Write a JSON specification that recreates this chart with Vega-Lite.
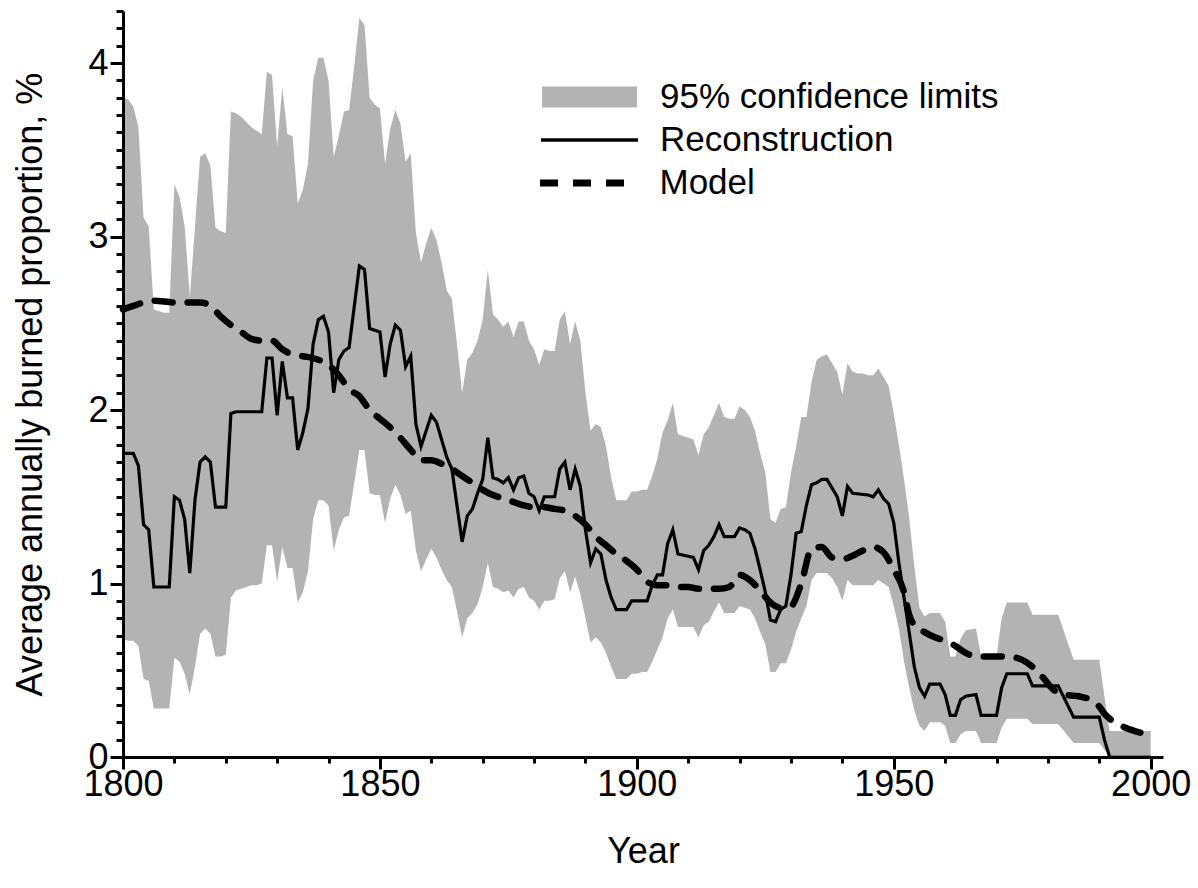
{
  "$schema": "https://vega.github.io/schema/vega-lite/v6.json",
  "width": 1040,
  "height": 746,
  "autosize": {"type": "none"},
  "padding": {"left": 123, "top": 11, "right": 35, "bottom": 131},
  "background": "white",
  "config": {"view": {"stroke": null}, "font": "Liberation Sans"},
  "datasets": {
    "band": [
      {"year":1800,"lo":0.68,"hi":3.80},{"year":1801,"lo":0.67,"hi":3.79},{"year":1802,"lo":0.67,"hi":3.75},{"year":1803,"lo":0.64,"hi":3.63},
      {"year":1804,"lo":0.45,"hi":3.11},{"year":1805,"lo":0.44,"hi":3.06},{"year":1806,"lo":0.28,"hi":2.58},{"year":1807,"lo":0.28,"hi":2.57},
      {"year":1808,"lo":0.28,"hi":2.56},{"year":1809,"lo":0.28,"hi":2.56},{"year":1810,"lo":0.57,"hi":3.30},{"year":1811,"lo":0.55,"hi":3.23},
      {"year":1812,"lo":0.48,"hi":3.06},{"year":1813,"lo":0.36,"hi":2.65},{"year":1814,"lo":0.52,"hi":3.05},{"year":1815,"lo":0.71,"hi":3.46},
      {"year":1816,"lo":0.74,"hi":3.48},{"year":1817,"lo":0.71,"hi":3.41},{"year":1818,"lo":0.58,"hi":3.05},{"year":1819,"lo":0.58,"hi":3.03},
      {"year":1820,"lo":0.59,"hi":3.02},{"year":1821,"lo":0.92,"hi":3.72},{"year":1822,"lo":0.96,"hi":3.71},{"year":1823,"lo":0.97,"hi":3.69},
      {"year":1824,"lo":0.98,"hi":3.66},{"year":1825,"lo":0.99,"hi":3.63},{"year":1826,"lo":0.99,"hi":3.61},{"year":1827,"lo":1.00,"hi":3.59},
      {"year":1828,"lo":1.22,"hi":3.95},{"year":1829,"lo":1.22,"hi":3.93},{"year":1830,"lo":1.01,"hi":3.52},{"year":1831,"lo":1.21,"hi":3.86},
      {"year":1832,"lo":1.09,"hi":3.59},{"year":1833,"lo":1.09,"hi":3.58},{"year":1834,"lo":0.89,"hi":3.19},{"year":1835,"lo":0.95,"hi":3.27},
      {"year":1836,"lo":1.07,"hi":3.42},{"year":1837,"lo":1.37,"hi":3.90},{"year":1838,"lo":1.48,"hi":4.03},{"year":1839,"lo":1.48,"hi":4.03},
      {"year":1840,"lo":1.45,"hi":3.90},{"year":1841,"lo":1.19,"hi":3.46},{"year":1842,"lo":1.31,"hi":3.58},{"year":1843,"lo":1.38,"hi":3.72},
      {"year":1844,"lo":1.39,"hi":3.73},{"year":1845,"lo":1.58,"hi":3.98},{"year":1846,"lo":1.77,"hi":4.26},{"year":1847,"lo":1.77,"hi":4.22},
      {"year":1848,"lo":1.52,"hi":3.80},{"year":1849,"lo":1.51,"hi":3.76},{"year":1850,"lo":1.51,"hi":3.74},{"year":1851,"lo":1.35,"hi":3.42},
      {"year":1852,"lo":1.49,"hi":3.62},{"year":1853,"lo":1.57,"hi":3.73},{"year":1854,"lo":1.51,"hi":3.65},{"year":1855,"lo":1.40,"hi":3.43},
      {"year":1856,"lo":1.42,"hi":3.48},{"year":1857,"lo":1.19,"hi":3.02},{"year":1858,"lo":1.07,"hi":2.85},{"year":1859,"lo":1.14,"hi":2.96},
      {"year":1860,"lo":1.20,"hi":3.05},{"year":1861,"lo":1.15,"hi":2.98},{"year":1862,"lo":1.08,"hi":2.85},{"year":1863,"lo":1.02,"hi":2.69},
      {"year":1864,"lo":0.98,"hi":2.64},{"year":1865,"lo":0.84,"hi":2.38},{"year":1866,"lo":0.69,"hi":2.10},{"year":1867,"lo":0.80,"hi":2.29},
      {"year":1868,"lo":0.83,"hi":2.33},{"year":1869,"lo":0.88,"hi":2.40},{"year":1870,"lo":0.98,"hi":2.52},{"year":1871,"lo":1.12,"hi":2.81},
      {"year":1872,"lo":0.98,"hi":2.55},{"year":1873,"lo":0.97,"hi":2.52},{"year":1874,"lo":0.95,"hi":2.48},{"year":1875,"lo":0.96,"hi":2.51},
      {"year":1876,"lo":0.92,"hi":2.42},{"year":1877,"lo":0.97,"hi":2.51},{"year":1878,"lo":0.98,"hi":2.51},{"year":1879,"lo":0.92,"hi":2.40},
      {"year":1880,"lo":0.90,"hi":2.35},{"year":1881,"lo":0.85,"hi":2.26},{"year":1882,"lo":0.90,"hi":2.35},{"year":1883,"lo":0.90,"hi":2.34},
      {"year":1884,"lo":0.91,"hi":2.34},{"year":1885,"lo":1.03,"hi":2.52},{"year":1886,"lo":1.07,"hi":2.57},{"year":1887,"lo":0.95,"hi":2.38},
      {"year":1888,"lo":1.04,"hi":2.51},{"year":1889,"lo":0.94,"hi":2.40},{"year":1890,"lo":0.80,"hi":2.10},{"year":1891,"lo":0.66,"hi":1.88},
      {"year":1892,"lo":0.69,"hi":1.92},{"year":1893,"lo":0.66,"hi":1.90},{"year":1894,"lo":0.60,"hi":1.79},{"year":1895,"lo":0.52,"hi":1.61},
      {"year":1896,"lo":0.45,"hi":1.48},{"year":1897,"lo":0.45,"hi":1.48},{"year":1898,"lo":0.45,"hi":1.48},{"year":1899,"lo":0.48,"hi":1.53},
      {"year":1900,"lo":0.48,"hi":1.53},{"year":1901,"lo":0.49,"hi":1.54},{"year":1902,"lo":0.49,"hi":1.54},{"year":1903,"lo":0.55,"hi":1.62},
      {"year":1904,"lo":0.62,"hi":1.72},{"year":1905,"lo":0.69,"hi":1.87},{"year":1906,"lo":0.80,"hi":1.94},{"year":1907,"lo":0.85,"hi":2.04},
      {"year":1908,"lo":0.75,"hi":1.86},{"year":1909,"lo":0.75,"hi":1.85},{"year":1910,"lo":0.75,"hi":1.84},{"year":1911,"lo":0.75,"hi":1.83},
      {"year":1912,"lo":0.69,"hi":1.74},{"year":1913,"lo":0.76,"hi":1.86},{"year":1914,"lo":0.78,"hi":1.90},{"year":1915,"lo":0.84,"hi":1.97},
      {"year":1916,"lo":0.89,"hi":2.04},{"year":1917,"lo":0.83,"hi":1.96},{"year":1918,"lo":0.83,"hi":1.95},{"year":1919,"lo":0.83,"hi":1.95},
      {"year":1920,"lo":0.87,"hi":2.02},{"year":1921,"lo":0.86,"hi":2.00},{"year":1922,"lo":0.85,"hi":1.96},{"year":1923,"lo":0.80,"hi":1.88},
      {"year":1924,"lo":0.72,"hi":1.75},{"year":1925,"lo":0.65,"hi":1.64},{"year":1926,"lo":0.49,"hi":1.37},{"year":1927,"lo":0.49,"hi":1.35},
      {"year":1928,"lo":0.54,"hi":1.43},{"year":1929,"lo":0.54,"hi":1.44},{"year":1930,"lo":0.62,"hi":1.64},{"year":1931,"lo":0.72,"hi":1.79},
      {"year":1932,"lo":0.80,"hi":1.96},{"year":1933,"lo":0.87,"hi":1.96},{"year":1934,"lo":1.02,"hi":2.16},{"year":1935,"lo":1.06,"hi":2.29},
      {"year":1936,"lo":1.06,"hi":2.31},{"year":1937,"lo":1.06,"hi":2.32},{"year":1938,"lo":1.03,"hi":2.27},{"year":1939,"lo":0.98,"hi":2.22},
      {"year":1940,"lo":0.90,"hi":2.09},{"year":1941,"lo":1.02,"hi":2.27},{"year":1942,"lo":0.99,"hi":2.22},{"year":1943,"lo":0.99,"hi":2.21},
      {"year":1944,"lo":0.99,"hi":2.21},{"year":1945,"lo":0.99,"hi":2.20},{"year":1946,"lo":0.99,"hi":2.20},{"year":1947,"lo":1.02,"hi":2.24},
      {"year":1948,"lo":1.00,"hi":2.19},{"year":1949,"lo":0.98,"hi":2.14},{"year":1950,"lo":0.87,"hi":1.98},{"year":1951,"lo":0.74,"hi":1.80},
      {"year":1952,"lo":0.55,"hi":1.60},{"year":1953,"lo":0.40,"hi":1.38},{"year":1954,"lo":0.27,"hi":1.10},{"year":1955,"lo":0.18,"hi":0.86},
      {"year":1956,"lo":0.15,"hi":0.81},{"year":1957,"lo":0.20,"hi":0.83},{"year":1959,"lo":0.20,"hi":0.83},{"year":1960,"lo":0.18,"hi":0.78},
      {"year":1961,"lo":0.08,"hi":0.58},{"year":1962,"lo":0.08,"hi":0.58},{"year":1963,"lo":0.13,"hi":0.68},{"year":1964,"lo":0.15,"hi":0.73},
      {"year":1966,"lo":0.15,"hi":0.74},{"year":1967,"lo":0.08,"hi":0.58},{"year":1970,"lo":0.08,"hi":0.58},{"year":1971,"lo":0.17,"hi":0.80},
      {"year":1972,"lo":0.22,"hi":0.89},{"year":1976,"lo":0.22,"hi":0.89},{"year":1977,"lo":0.19,"hi":0.82},{"year":1982,"lo":0.19,"hi":0.82},
      {"year":1985,"lo":0.08,"hi":0.56},{"year":1990,"lo":0.08,"hi":0.56},{"year":1991,"lo":0.04,"hi":0.35},{"year":1992,"lo":0.01,"hi":0.15},
      {"year":2000,"lo":0.01,"hi":0.15}
    ],
    "recon": [
      {"year":1800,"v":1.75},{"year":1802,"v":1.75},{"year":1803,"v":1.68},{"year":1804,"v":1.34},{"year":1805,"v":1.31},
      {"year":1806,"v":0.98},{"year":1809,"v":0.98},{"year":1810,"v":1.50},{"year":1811,"v":1.48},{"year":1812,"v":1.37},
      {"year":1813,"v":1.06},{"year":1814,"v":1.48},{"year":1815,"v":1.70},{"year":1816,"v":1.73},{"year":1817,"v":1.70},
      {"year":1818,"v":1.44},{"year":1820,"v":1.44},{"year":1821,"v":1.98},{"year":1822,"v":1.99},{"year":1827,"v":1.99},
      {"year":1828,"v":2.30},{"year":1829,"v":2.30},{"year":1830,"v":1.97},{"year":1831,"v":2.28},{"year":1832,"v":2.07},
      {"year":1833,"v":2.07},{"year":1834,"v":1.77},{"year":1835,"v":1.87},{"year":1836,"v":2.01},{"year":1837,"v":2.38},
      {"year":1838,"v":2.52},{"year":1839,"v":2.54},{"year":1840,"v":2.45},{"year":1841,"v":2.10},{"year":1842,"v":2.29},
      {"year":1843,"v":2.34},{"year":1844,"v":2.36},{"year":1846,"v":2.83},{"year":1847,"v":2.81},{"year":1848,"v":2.47},
      {"year":1850,"v":2.45},{"year":1851,"v":2.19},{"year":1852,"v":2.38},{"year":1853,"v":2.49},{"year":1854,"v":2.46},
      {"year":1855,"v":2.25},{"year":1856,"v":2.31},{"year":1857,"v":1.92},{"year":1858,"v":1.79},{"year":1859,"v":1.88},
      {"year":1860,"v":1.97},{"year":1861,"v":1.93},{"year":1862,"v":1.83},{"year":1863,"v":1.73},{"year":1864,"v":1.66},
      {"year":1865,"v":1.45},{"year":1866,"v":1.24},{"year":1867,"v":1.39},{"year":1868,"v":1.43},{"year":1869,"v":1.52},
      {"year":1870,"v":1.60},{"year":1871,"v":1.84},{"year":1872,"v":1.61},{"year":1873,"v":1.60},{"year":1874,"v":1.58},
      {"year":1875,"v":1.61},{"year":1876,"v":1.54},{"year":1877,"v":1.61},{"year":1878,"v":1.62},{"year":1879,"v":1.52},
      {"year":1880,"v":1.50},{"year":1881,"v":1.42},{"year":1882,"v":1.50},{"year":1884,"v":1.50},{"year":1885,"v":1.66},
      {"year":1886,"v":1.70},{"year":1887,"v":1.54},{"year":1888,"v":1.66},{"year":1889,"v":1.56},{"year":1890,"v":1.31},
      {"year":1891,"v":1.12},{"year":1892,"v":1.20},{"year":1893,"v":1.17},{"year":1894,"v":1.02},{"year":1895,"v":0.92},
      {"year":1896,"v":0.85},{"year":1898,"v":0.85},{"year":1899,"v":0.90},{"year":1902,"v":0.90},{"year":1903,"v":0.99},
      {"year":1904,"v":1.05},{"year":1905,"v":1.05},{"year":1906,"v":1.23},{"year":1907,"v":1.31},{"year":1908,"v":1.17},
      {"year":1911,"v":1.15},{"year":1912,"v":1.08},{"year":1913,"v":1.19},{"year":1914,"v":1.22},{"year":1915,"v":1.27},
      {"year":1916,"v":1.34},{"year":1917,"v":1.27},{"year":1919,"v":1.27},{"year":1920,"v":1.32},{"year":1921,"v":1.31},
      {"year":1922,"v":1.29},{"year":1923,"v":1.20},{"year":1924,"v":1.08},{"year":1925,"v":0.95},{"year":1926,"v":0.79},
      {"year":1927,"v":0.78},{"year":1928,"v":0.85},{"year":1929,"v":0.87},{"year":1930,"v":1.05},{"year":1931,"v":1.29},
      {"year":1932,"v":1.30},{"year":1933,"v":1.45},{"year":1934,"v":1.57},{"year":1935,"v":1.58},{"year":1936,"v":1.60},
      {"year":1937,"v":1.60},{"year":1938,"v":1.55},{"year":1939,"v":1.50},{"year":1940,"v":1.39},{"year":1941,"v":1.56},
      {"year":1942,"v":1.52},{"year":1945,"v":1.51},{"year":1946,"v":1.50},{"year":1947,"v":1.54},{"year":1948,"v":1.49},
      {"year":1949,"v":1.46},{"year":1950,"v":1.35},{"year":1951,"v":1.12},{"year":1952,"v":0.92},{"year":1953,"v":0.72},
      {"year":1954,"v":0.52},{"year":1955,"v":0.40},{"year":1956,"v":0.35},{"year":1957,"v":0.42},{"year":1959,"v":0.42},
      {"year":1960,"v":0.36},{"year":1961,"v":0.24},{"year":1962,"v":0.24},{"year":1963,"v":0.33},{"year":1964,"v":0.35},
      {"year":1966,"v":0.36},{"year":1967,"v":0.24},{"year":1970,"v":0.24},{"year":1971,"v":0.40},{"year":1972,"v":0.48},
      {"year":1976,"v":0.48},{"year":1977,"v":0.41},{"year":1982,"v":0.41},{"year":1985,"v":0.23},{"year":1990,"v":0.23},
      {"year":1991,"v":0.10},{"year":1992,"v":0.0},{"year":2000,"v":0.0}
    ],
    "model": [
      {"year":1800,"v":2.58},{"year":1802,"v":2.60},{"year":1804,"v":2.62},{"year":1806,"v":2.63},{"year":1810,"v":2.62},
      {"year":1815,"v":2.62},{"year":1817,"v":2.60},{"year":1819,"v":2.54},{"year":1821,"v":2.49},{"year":1823,"v":2.45},
      {"year":1825,"v":2.41},{"year":1827,"v":2.40},{"year":1829,"v":2.40},{"year":1831,"v":2.35},{"year":1833,"v":2.32},
      {"year":1835,"v":2.31},{"year":1838,"v":2.29},{"year":1840,"v":2.26},{"year":1842,"v":2.20},{"year":1844,"v":2.12},
      {"year":1846,"v":2.08},{"year":1848,"v":2.00},{"year":1850,"v":1.95},{"year":1852,"v":1.90},{"year":1854,"v":1.84},
      {"year":1856,"v":1.77},{"year":1858,"v":1.71},{"year":1860,"v":1.71},{"year":1862,"v":1.69},{"year":1864,"v":1.66},
      {"year":1866,"v":1.62},{"year":1868,"v":1.58},{"year":1870,"v":1.54},{"year":1872,"v":1.51},{"year":1874,"v":1.49},
      {"year":1876,"v":1.47},{"year":1878,"v":1.45},{"year":1880,"v":1.44},{"year":1882,"v":1.44},{"year":1884,"v":1.43},
      {"year":1886,"v":1.42},{"year":1888,"v":1.39},{"year":1890,"v":1.34},{"year":1892,"v":1.27},{"year":1894,"v":1.22},
      {"year":1896,"v":1.17},{"year":1898,"v":1.13},{"year":1900,"v":1.08},{"year":1902,"v":1.01},{"year":1904,"v":0.99},
      {"year":1906,"v":0.99},{"year":1908,"v":0.98},{"year":1910,"v":0.98},{"year":1912,"v":0.97},{"year":1914,"v":0.97},
      {"year":1916,"v":0.97},{"year":1918,"v":0.98},{"year":1920,"v":1.05},{"year":1922,"v":1.02},{"year":1924,"v":0.96},
      {"year":1926,"v":0.89},{"year":1928,"v":0.86},{"year":1930,"v":0.87},{"year":1932,"v":1.00},{"year":1934,"v":1.20},
      {"year":1936,"v":1.21},{"year":1938,"v":1.15},{"year":1940,"v":1.14},{"year":1942,"v":1.16},{"year":1944,"v":1.19},
      {"year":1946,"v":1.21},{"year":1948,"v":1.18},{"year":1950,"v":1.08},{"year":1952,"v":0.95},{"year":1953,"v":0.82},
      {"year":1954,"v":0.76},{"year":1956,"v":0.72},{"year":1958,"v":0.69},{"year":1960,"v":0.67},{"year":1962,"v":0.64},
      {"year":1964,"v":0.60},{"year":1966,"v":0.58},{"year":1972,"v":0.58},{"year":1975,"v":0.56},{"year":1977,"v":0.52},
      {"year":1979,"v":0.46},{"year":1981,"v":0.39},{"year":1983,"v":0.36},{"year":1986,"v":0.35},{"year":1989,"v":0.32},
      {"year":1990,"v":0.29},{"year":1991,"v":0.25},{"year":1993,"v":0.20},{"year":1995,"v":0.17},{"year":1998,"v":0.14}
    ]
  },
  "resolve": {"axis": {"x": "independent", "y": "independent"}},
  "layer": [
    {
      "data": {"name": "band"},
      "mark": {"type": "area", "opacity": 1},
      "encoding": {
        "x": {
          "field": "year", "type": "quantitative",
          "scale": {"domain": [1800, 2002.4], "nice": false, "zero": false},
          "axis": {
            "orient": "bottom", "values": [1800, 1850, 1900, 1950, 2000], "format": "d",
            "title": "Year", "grid": false, "zindex": 2,
            "domainColor": "black", "domainWidth": 3, "tickColor": "black", "tickWidth": 3, "tickSize": 12,
            "labelFontSize": 36, "labelColor": "black", "labelPadding": -2, "labelFlush": false, "labelOverlap": false,
            "titleFontSize": 36, "titleFontWeight": "normal", "titleColor": "black", "titlePadding": 32
          }
        },
        "y": {
          "field": "lo", "type": "quantitative",
          "scale": {"domain": [0, 4.3], "nice": false, "zero": false},
          "axis": {
            "orient": "left", "values": [0, 1, 2, 3, 4],
            "title": "Average annually burned proportion, %", "grid": false, "zindex": 2,
            "domainColor": "black", "domainWidth": 3, "tickColor": "black", "tickWidth": 3, "tickSize": 13,
            "labelFontSize": 36, "labelColor": "black", "labelPadding": 2, "labelFlush": false, "labelOverlap": false,
            "titleFontSize": 36, "titleFontWeight": "normal", "titleColor": "black", "titlePadding": 38
          }
        },
        "y2": {"field": "hi"},
        "fill": {
          "datum": "95% confidence limits", "type": "nominal",
          "scale": {"domain": ["95% confidence limits"], "range": ["#b3b3b3"]},
          "legend": {
            "orient": "none", "legendX": 419, "legendY": 64.5, "title": null, "padding": 0,
            "symbolType": "M-1,-0.22H0.98V0.22H-1Z", "symbolSize": 9216, "symbolStrokeWidth": 0,
            "symbolStrokeColor": "transparent", "symbolOpacity": 1,
            "clipHeight": 43, "labelFontSize": 35, "labelColor": "black", "labelOffset": 22, "labelLimit": 600
          }
        }
      }
    },
    {
      "data": {"name": "recon"},
      "mark": {"type": "line", "strokeWidth": 3.2, "strokeJoin": "miter", "strokeMiterLimit": 4},
      "encoding": {
        "x": {
          "field": "year", "type": "quantitative",
          "axis": {
            "orient": "bottom", "values": [1810,1820,1830,1840,1860,1870,1880,1890,1910,1920,1930,1940,1960,1970,1980,1990],
            "labels": false, "domain": false, "title": null, "grid": false, "zindex": 2,
            "tickColor": "black", "tickWidth": 3, "tickSize": 6
          }
        },
        "y": {
          "field": "v", "type": "quantitative",
          "axis": {
            "orient": "left",
            "values": [0.1,0.2,0.3,0.4,0.5,0.6,0.7,0.8,0.9,1.1,1.2,1.3,1.4,1.5,1.6,1.7,1.8,1.9,2.1,2.2,2.3,2.4,2.5,2.6,2.7,2.8,2.9,3.1,3.2,3.3,3.4,3.5,3.6,3.7,3.8,3.9,4.1,4.2,4.3],
            "labels": false, "domain": false, "title": null, "grid": false, "zindex": 2,
            "tickColor": "black", "tickWidth": 3, "tickSize": 7
          }
        },
        "stroke": {
          "datum": "Reconstruction", "type": "nominal",
          "scale": {"domain": ["Reconstruction"], "range": ["black"]},
          "legend": {
            "orient": "none", "legendX": 416, "legendY": 107.5, "title": null, "padding": 0,
            "symbolType": "stroke", "symbolSize": 9409, "symbolStrokeWidth": 3.5, "symbolOpacity": 1,
            "clipHeight": 43, "labelFontSize": 35, "labelColor": "black", "labelOffset": 20, "labelLimit": 600
          }
        }
      }
    },
    {
      "data": {"name": "model"},
      "mark": {"type": "line", "strokeWidth": 6.5, "strokeCap": "round", "interpolate": "monotone", "color": "black"},
      "encoding": {
        "x": {"field": "year", "type": "quantitative", "axis": null},
        "y": {"field": "v", "type": "quantitative", "axis": null},
        "strokeDash": {
          "datum": "Model", "type": "nominal",
          "scale": {"domain": ["Model"], "range": [[18, 15]]},
          "legend": {
            "orient": "none", "legendX": 413.5, "legendY": 150.5, "title": null, "padding": 0,
            "symbolType": "stroke", "symbolSize": 7569, "symbolStrokeWidth": 7, "symbolStrokeColor": "black", "symbolOpacity": 1,
            "clipHeight": 43, "labelFontSize": 35, "labelColor": "black", "labelOffset": 29, "labelLimit": 600
          }
        }
      }
    }
  ]
}
